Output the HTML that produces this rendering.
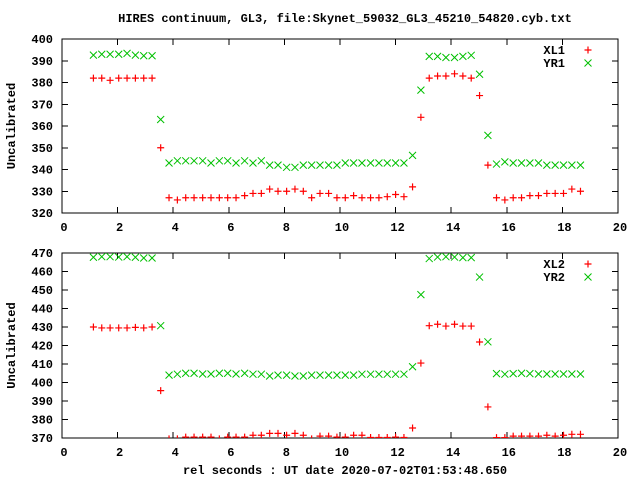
<!DOCTYPE html>
<html><head><meta charset="utf-8"><style>
body{margin:0;background:#fff}
svg{display:block}
text{font-family:"Liberation Mono","DejaVu Sans Mono",monospace;font-size:12px;font-weight:bold;fill:#000}
</style></head><body>
<svg id="chart" width="640" height="480" xmlns="http://www.w3.org/2000/svg">
<text x="345" y="22" text-anchor="middle">HIRES continuum, GL3, file:Skynet_59032_GL3_45210_54820.cyb.txt</text>
<text x="345" y="474" text-anchor="middle">rel seconds : UT date 2020-07-02T01:53:48.650</text>
<g id="p1"></g>
<g id="p2"></g>
</svg>
<script>
const times = [1.13,1.43,1.73,2.04,2.34,2.64,2.94,3.24,3.55,3.85,4.15,4.45,4.75,5.06,5.36,5.66,5.96,6.26,6.57,6.87,7.17,7.47,7.77,8.08,8.38,8.68,8.98,9.28,9.59,9.89,10.19,10.49,10.79,11.10,11.40,11.70,12.00,12.30,12.61,12.91,13.21,13.51,13.81,14.12,14.42,14.72,15.02,15.32,15.63,15.93,16.23,16.53,16.83,17.14,17.44,17.74,18.04,18.34,18.65];
const xl1 = [382,382,381,382,382,382,382,382,350,327,326,327,327,327,327,327,327,327,328,329,329,331,330,330,331,330,327,329,329,327,327,328,327,327,327,327.5,328.5,327.5,332,364,382,383,383,384,383,382,374,342,327,326,327,327,328,328,329,329,329,331,330];
const yr1 = [392.6,393,393,393,393.4,392.6,392.3,392.3,363,343,344,344,344,344,343,344,344,343,344,343,344,342,342,341,341,342,342,342,342,342,343,343,343,343,343,343,343,343,346.5,376.5,392,392,391.5,391.5,392,392.5,383.8,355.7,342.5,343.5,343,343,343,343,342,342,342,342,342];
const xl2 = [430,429.5,429.5,429.5,429.5,429.8,429.5,430,395.6,369.5,369.5,370.5,370.5,370.5,370.5,369.5,370.5,370.5,370.5,371.5,371.5,372.5,372.5,371.5,372.5,371.5,369.5,371,371,370.5,370.5,371.5,371.5,370.3,370.3,370.3,370.5,370.3,375.4,410.5,430.7,431.5,430.5,431.5,430.5,430.5,421.9,386.8,370.2,370.2,371,371,371,371,371.5,371,371.5,372,372];
const yr2 = [467.7,468,468,467.8,468,467.7,467.3,467.3,430.7,404,404.5,405,405,404.6,404.6,405,405,404.6,405,404.5,404.5,403.5,404,404,403.5,403.5,404,404,404,404,404,404,404.5,404.5,404.5,404.5,404.5,404.5,408.5,447.5,467,467.8,468,467.8,467.5,467.5,457,422,404.8,404.5,404.8,405,404.8,404.6,404.6,404.6,404.6,404.6,404.6];
const xTicks = [0,2,4,6,8,10,12,14,16,18,20];
const yTicks1 = [320,330,340,350,360,370,380,390,400];
const yTicks2 = [370,380,390,400,410,420,430,440,450,460,470];
const NS="http://www.w3.org/2000/svg";
const RED="#ff0000", GRN="#00c000";
function mk(parent,tag,attrs){const e=document.createElementNS(NS,tag);for(const k in attrs)e.setAttribute(k,attrs[k]);parent.appendChild(e);return e;}
function panel(gid,top,bottom,ymin,ymax,yt,sA,sB,nA,nB,clipId){
  const g=document.getElementById(gid);
  const L=62,R=618;
  const xs=v=>L+(v-0)/(20-0)*(R-L);
  const ys=v=>bottom-(v-ymin)/(ymax-ymin)*(bottom-top);
  const defs=mk(g,'defs',{});
  const cp=mk(defs,'clipPath',{id:clipId});
  mk(cp,'rect',{x:L,y:top,width:R-L,height:bottom-top});
  xTicks.forEach(v=>{
    const x=xs(v);
    const t=mk(g,'line',{x1:x,x2:x,y1:bottom,y2:bottom-6,stroke:'#000','shape-rendering':'crispEdges'});
    
    const t2=mk(g,'line',{x1:x,x2:x,y1:top,y2:top+6,stroke:'#000','shape-rendering':'crispEdges'});
    
    const lb=mk(g,'text',{x:x+2,y:bottom+18,'text-anchor':'middle'});lb.textContent=v;
    
  });
  yt.forEach(v=>{
    const y=ys(v);
    const t=mk(g,'line',{x1:L,x2:L+6,y1:y,y2:y,stroke:'#000','shape-rendering':'crispEdges'});
    
    const t2=mk(g,'line',{x1:R,x2:R-6,y1:y,y2:y,stroke:'#000','shape-rendering':'crispEdges'});
    
    const lb=mk(g,'text',{x:L-9,y:y+4,'text-anchor':'end'});lb.textContent=v;
    
  });
  const fr=mk(g,'rect',{x:L,y:top,width:R-L,height:bottom-top,fill:'none',stroke:'#000','shape-rendering':'crispEdges'});
  
  const yl=mk(g,'text',{x:0,y:0,'text-anchor':'middle',transform:`translate(15,${(top+bottom)/2}) rotate(-90)`});
  yl.textContent='Uncalibrated';
  
  const mg=mk(g,'g',{'clip-path':`url(#${clipId})`});
  const plus=(p,x,y,c)=>mk(p,'path',{d:`M${x-3.5},${y}H${x+3.5}M${x},${y-3.5}V${y+3.5}`,stroke:c,'stroke-width':1.2,fill:'none'});
  const cross=(p,x,y,c)=>mk(p,'path',{d:`M${x-3.5},${y-3.5}L${x+3.5},${y+3.5}M${x-3.5},${y+3.5}L${x+3.5},${y-3.5}`,stroke:c,'stroke-width':1,fill:'none'});
  const sgA=mk(mg,'g',{});
  const sgB=mk(mg,'g',{});
  times.forEach((t,i)=>{
    const a=plus(sgA,xs(t),ys(sA[i]),RED);
    
    const b=cross(sgB,xs(t),ys(sB[i]),GRN);
    
  });
  const lg=mk(g,'g',{});
  const t1=mk(lg,'text',{x:565,y:top+15,'text-anchor':'end'});t1.textContent=nA;
  
  const t2=mk(lg,'text',{x:565,y:top+28,'text-anchor':'end'});t2.textContent=nB;
  
  const m1=plus(lg,588,top+11,RED);
  const m2=cross(lg,588,top+24,GRN);
}
panel('p1',39,213,320,400,yTicks1,xl1,yr1,'XL1','YR1','c1');
panel('p2',253,438,370,470,yTicks2,xl2,yr2,'XL2','YR2','c2');
</script>
</body></html>
